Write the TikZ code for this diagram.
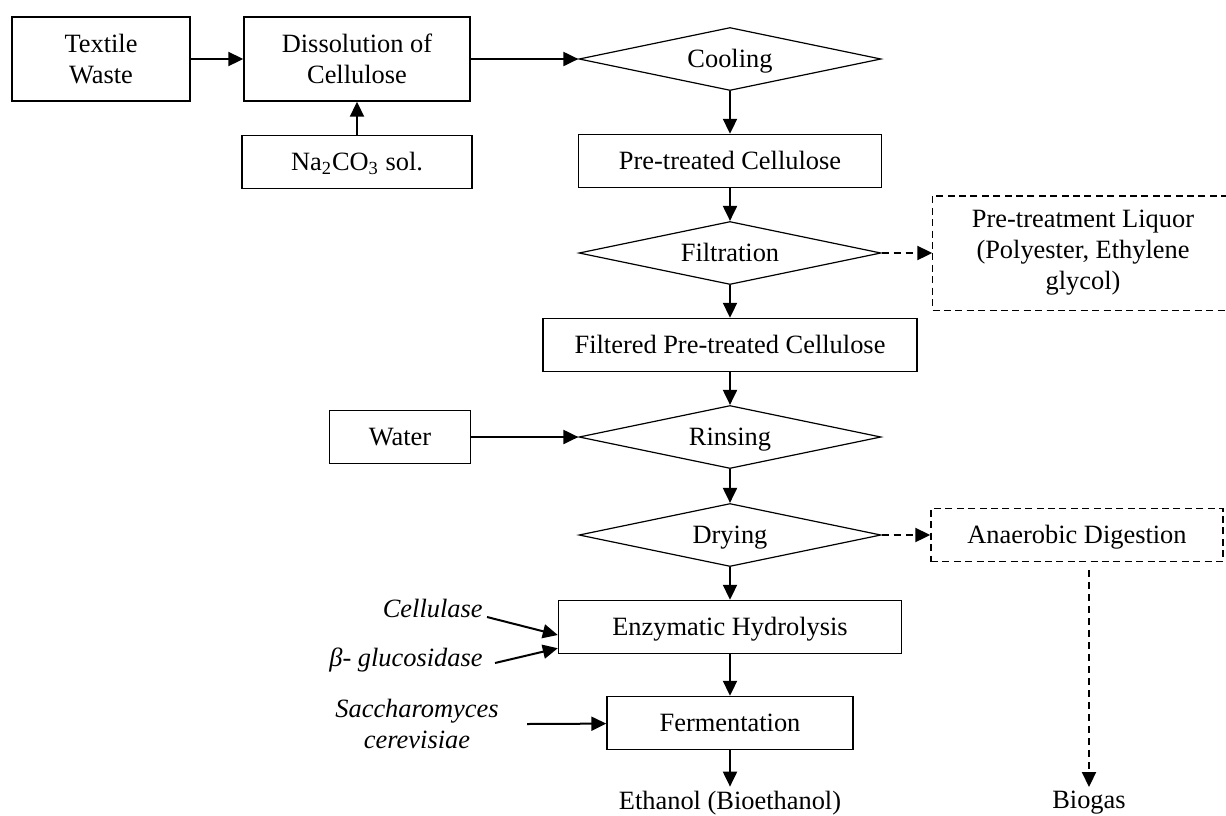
\documentclass[tikz,border=0pt]{standalone}
\usepackage{fontspec}
\setmainfont{Liberation Serif}
\usetikzlibrary{shapes.geometric,arrows.meta}

\begin{document}
\begin{tikzpicture}[x=0.5pt, y=-0.5pt, font=\fontsize{13.2}{15.5}\selectfont,
        box/.style = {draw, line width=0.7pt, rectangle, align=center, inner sep=2pt, minimum height=26.5pt},
        one/.style = {text height=8.8pt, text depth=0pt},
        dbox/.style = {box, dash pattern=on 3.5pt off 2.2pt},
        dec/.style = {draw, line width=0.6pt, diamond, aspect=4.8, inner sep=0pt, minimum width=151pt, minimum height=31.5pt, one},
        plain/.style = {inner sep=2pt, align=center},
        flow/.style = {line width=1pt, -{Triangle[length=7.5pt,width=7pt]}},
        flowd/.style = {flow, dash pattern=on 3.5pt off 2.5pt}]
        \useasboundingbox (0,0) rectangle (1226,815);
        \node[dec] (cool) at (730,59) {Cooling};
        \node[box, minimum width=113pt, minimum height=42pt] (diss) [left of=cool, node distance=186.5pt] {Dissolution of\\Cellulose};
        \node[box, minimum width=89pt, minimum height=42pt] (tex) [left of=diss, node distance=128pt] {Textile\\Waste};
        \node[box, one, minimum width=115pt] (soda) [below of=diss, node distance=51.5pt] {Na\textsubscript{2}CO\textsubscript{3} sol.};
        \node[box, one, minimum width=151.5pt] (pre) [below of=cool, node distance=51pt] {Pre-treated Cellulose};
        \node[dec] (filt) [below of=pre, node distance=46pt] {Filtration};
        % liquor box runs past the right edge, so it is drawn open
        \node[box, draw=none, minimum width=150pt, minimum height=56.5pt] (liq) [right of=filt, node distance=176.5pt] {Pre-treatment Liquor\\(Polyester, Ethylene\\glycol)};
        \draw[line width=0.7pt, dash pattern=on 3.5pt off 2.2pt] ([xshift=20pt]liq.north east) -- (liq.north west) -- (liq.south west) -- ([xshift=20pt]liq.south east);
        \node[box, one, minimum width=187pt] (filtd) [below of=filt, node distance=46pt] {Filtered Pre-treated Cellulose};
        \node[dec] (rins) [below of=filtd, node distance=46pt] {Rinsing};
        \node[box, one, minimum width=70.5pt] (water) [left of=rins, node distance=165pt] {Water};
        \node[dec] (dry) [below of=rins, node distance=49pt] {Drying};
        \node[dbox, one, minimum width=146pt] (anae) [right of=dry, node distance=173.5pt] {Anaerobic Digestion};
        \node[box, one, minimum width=171.5pt] (enz) [below of=dry, node distance=46pt] {Enzymatic Hydrolysis};
        \node[box, one, minimum width=123pt] (ferm) [below of=enz, node distance=48pt] {Fermentation};
        \node[plain] (eth) [below of=ferm, node distance=40pt] {Ethanol (Bioethanol)};
        \node[plain] (bio) [below of=anae, node distance=134pt, xshift=6pt] {Biogas};
        \node[plain, anchor=east] (cell) at (487,608) {\textit{Cellulase}};
        \node[plain, anchor=east] (glu) at (487,660) {\textit{β- glucosidase}};
        \node[plain] (yeast) at (417,724) {\textit{Saccharomyces}\\\textit{cerevisiae}};
        \draw[flow] (tex) -- (diss);
        \draw[flow] (soda) -- (diss);
        \draw[flow] (diss) -- (cool);
        \draw[flow] (cool) -- (pre);
        \draw[flow] (pre) -- (filt);
        \draw[flowd] (filt) -- (liq.west);
        \draw[flow] (filt) -- (filtd);
        \draw[flow] (filtd) -- (rins);
        \draw[flow] (water) -- (rins);
        \draw[flow] (rins) -- (dry);
        \draw[flowd] (dry) -- (anae);
        \draw[flow] (dry) -- (enz);
        \draw[flow] (enz) -- (ferm);
        \draw[flow] (ferm) -- (eth);
        \draw[flow] ([yshift=-4.5pt]cell.east) -- ([yshift=-4pt]enz.west);
        \draw[flow] ([xshift=4pt,yshift=-1.5pt]glu.east) -- ([yshift=3pt]enz.south west);
        \draw[flow] ([xshift=12pt]yeast.east) -- (ferm);
        \draw[flowd] (bio |- anae.south) ++(0,-4pt) -- (bio);
    \end{tikzpicture}
\end{document}
